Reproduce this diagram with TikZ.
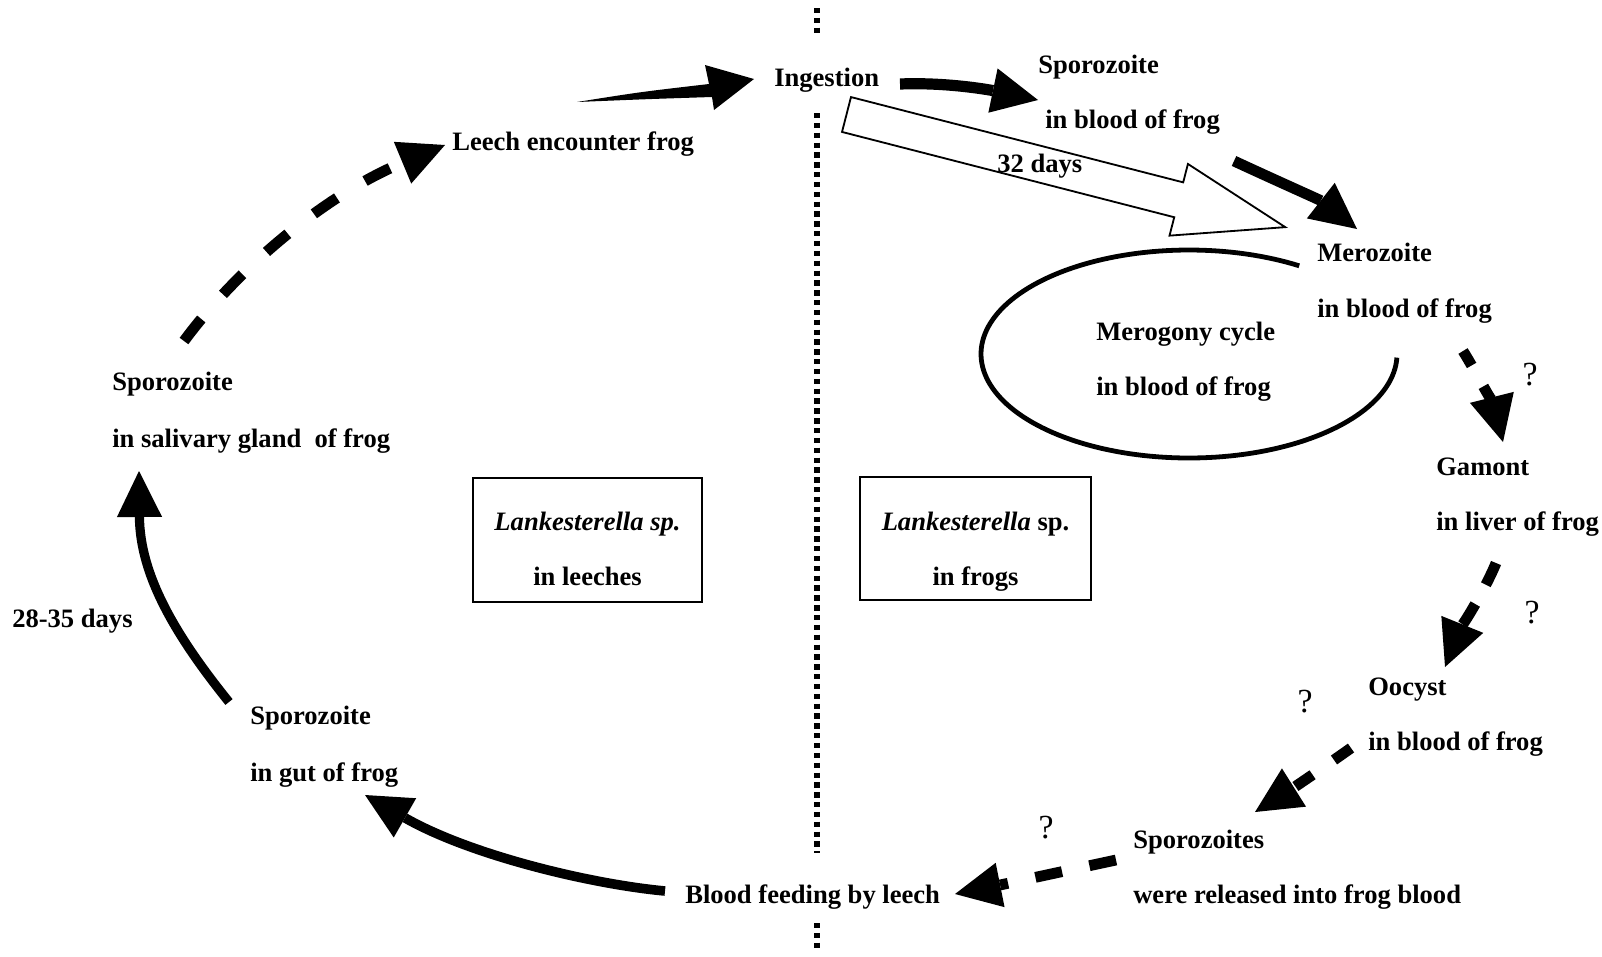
\documentclass[tikz,border=0pt]{standalone}
\usepackage{fontspec}
\setmainfont{Liberation Serif}
\usetikzlibrary{arrows.meta}

\begin{document}
\begin{tikzpicture}[x=0.025cm,y=-0.025cm,
  lbl/.style={font=\bfseries\fontsize{18.9}{22}\selectfont,inner sep=0pt,anchor=base west},
  boxtxt/.style={lbl,anchor=base},
  qmark/.style={font=\fontsize{24}{26}\selectfont,inner sep=0pt,anchor=base},
  hostbox/.style={draw,line width=1.1pt,inner sep=0pt},
  fat/.style={line width=#1,-{Triangle[length=1.15cm,width=1.13cm,line width=0pt]}},
  fat/.default=0.27cm,
  dsh/.style 2 args={fat,dash pattern=on #1 off #2},
  divider/.style={line width=4.2pt,dash pattern=on 3.8pt off 3.2pt}]
  \fill[white] (0,0) rectangle (1602,956);
  \useasboundingbox (0,0) rectangle (1602,956);

  \draw[divider] (817,8) -- (817,37);
  \draw[divider] (817,113) -- (817,853);
  \draw[divider] (817,923) -- (817,950);

  \node[lbl] (ing) at (774,86) {Ingestion};
  \node[lbl] (spb1) at (1038,73) {Sporozoite};
  \node[lbl] (spb2) at (1045,128) {in blood of frog};
  \node[lbl] (leech) at (452,150) {Leech encounter frog};
  \node[lbl] (mer1) at (1317,261) {Merozoite};
  \node[lbl] (mer2) at (1317,317) {in blood of frog};
  \node[lbl] (mgc1) at (1096,340) {Merogony cycle};
  \node[lbl] (mgc2) at (1096,395) {in blood of frog};
  \node[lbl] (gam1) at (1436,475) {Gamont};
  \node[lbl] (gam2) at (1436,530) {in liver of frog};
  \node[lbl] (ooc1) at (1368,695) {Oocyst};
  \node[lbl] (ooc2) at (1368,750) {in blood of frog};
  \node[lbl] (rel1) at (1133,848) {Sporozoites};
  \node[lbl] (rel2) at (1133,903) {were released into frog blood};
  \node[lbl] (feed) at (685,903) {Blood feeding by leech};
  \node[lbl] (gut1) at (250,724) {Sporozoite};
  \node[lbl] (gut2) at (250,781) {in gut of frog};
  \node[lbl] (days28) at (12,627) {28-35 days};
  \node[lbl] (sal1) at (112,390) {Sporozoite};
  \node[lbl] (sal2) at (112,447) {in salivary gland~ of frog};

  \node[qmark] (q1) at (1530,385) {?};
  \node[qmark] (q2) at (1532,623) {?};
  \node[qmark] (q3) at (1305,712) {?};
  \node[qmark] (q4) at (1046,838) {?};

  \node[hostbox,minimum width=5.73cm,minimum height=3.1cm] (lbox) at (587.5,540) {};
  \node[boxtxt] (lb1) at (587.5,530) {\itshape Lankesterella sp.};
  \node[boxtxt] (lb2) at (587.5,585) {in leeches};
  \node[hostbox,minimum width=5.78cm,minimum height=3.08cm] (rbox) at (975.5,538.5) {};
  \node[boxtxt] (rb1) at (975.5,530) {\textit{Lankesterella} sp.};
  \node[boxtxt] (rb2) at (975.5,585) {in frogs};

  \draw[line width=0.12cm] plot[domain=-58:-358,samples=150] ({1189+208*cos(\x)},{354+104*sin(\x)});

  \coordinate (wa) at (846.5,114.5);
  \draw[line width=1.3pt,fill=white,shift={(wa)},rotate=-14.4] (0,-18) -- (343,-18) -- (343,-37) -- (453,0) -- (343,37) -- (343,18) -- (0,18) -- cycle;
  \node[lbl] (days32) at (997,172) {32 days};

  \coordinate (lkA) at (577,102);
  \coordinate (ingA) at (754,79);
  \fill (lkA) .. controls (640,92) .. (709,84) -- (705,65) -- (ingA) -- (714,110) -- (712,97) .. controls (650,99) .. (lkA) -- cycle;

  \coordinate (ingB) at (900,84);
  \coordinate (spB) at (1038,100);
  \draw[fat=0.28cm] (ingB) .. controls (950,82) and (995,91) .. (spB);

  \coordinate (spD) at (1234,161);
  \coordinate (merD) at (1357,229);
  \draw[fat] (spD) .. controls (1275,180) and (1320,200) .. (merD);

  \coordinate (merE) at (1463,351);
  \coordinate (gamE) at (1503,442);
  \draw[dsh={0.42cm}{0.6cm}] (merE) .. controls (1478,375) and (1495,410) .. (gamE);

  \coordinate (gamF) at (1496,563);
  \coordinate (oocF) at (1445,667);
  \draw[dsh={0.6cm}{0.55cm}] (gamF) .. controls (1485,590) and (1460,630) .. (oocF);

  \coordinate (oocG) at (1351,748);
  \coordinate (relG) at (1255,812);
  \draw[dsh={0.52cm}{0.65cm}] (oocG) .. controls (1320,770) and (1290,790) .. (relG);

  \coordinate (relH) at (1116,860);
  \coordinate (feedH) at (955,894);
  \draw[dsh={0.68cm}{0.7cm}] (relH) .. controls (1060,872) and (1000,885) .. (feedH);

  \coordinate (feedI) at (665,891);
  \coordinate (gutI) at (365,795);
  \draw[fat=0.24cm] (feedI) .. controls (590,884) and (470,855) .. (gutI);

  \coordinate (gutJ) at (229,702);
  \coordinate (salJ) at (139,471);
  \draw[fat=0.23cm] (gutJ) .. controls (175,635) and (140,575) .. (salJ);

  \coordinate (salK) at (184,341);
  \coordinate (leechK) at (445,145);
  \draw[dsh={0.7cm}{0.82cm}] (salK) .. controls (238,268) and (325,195) .. (leechK);
\end{tikzpicture}
\end{document}
